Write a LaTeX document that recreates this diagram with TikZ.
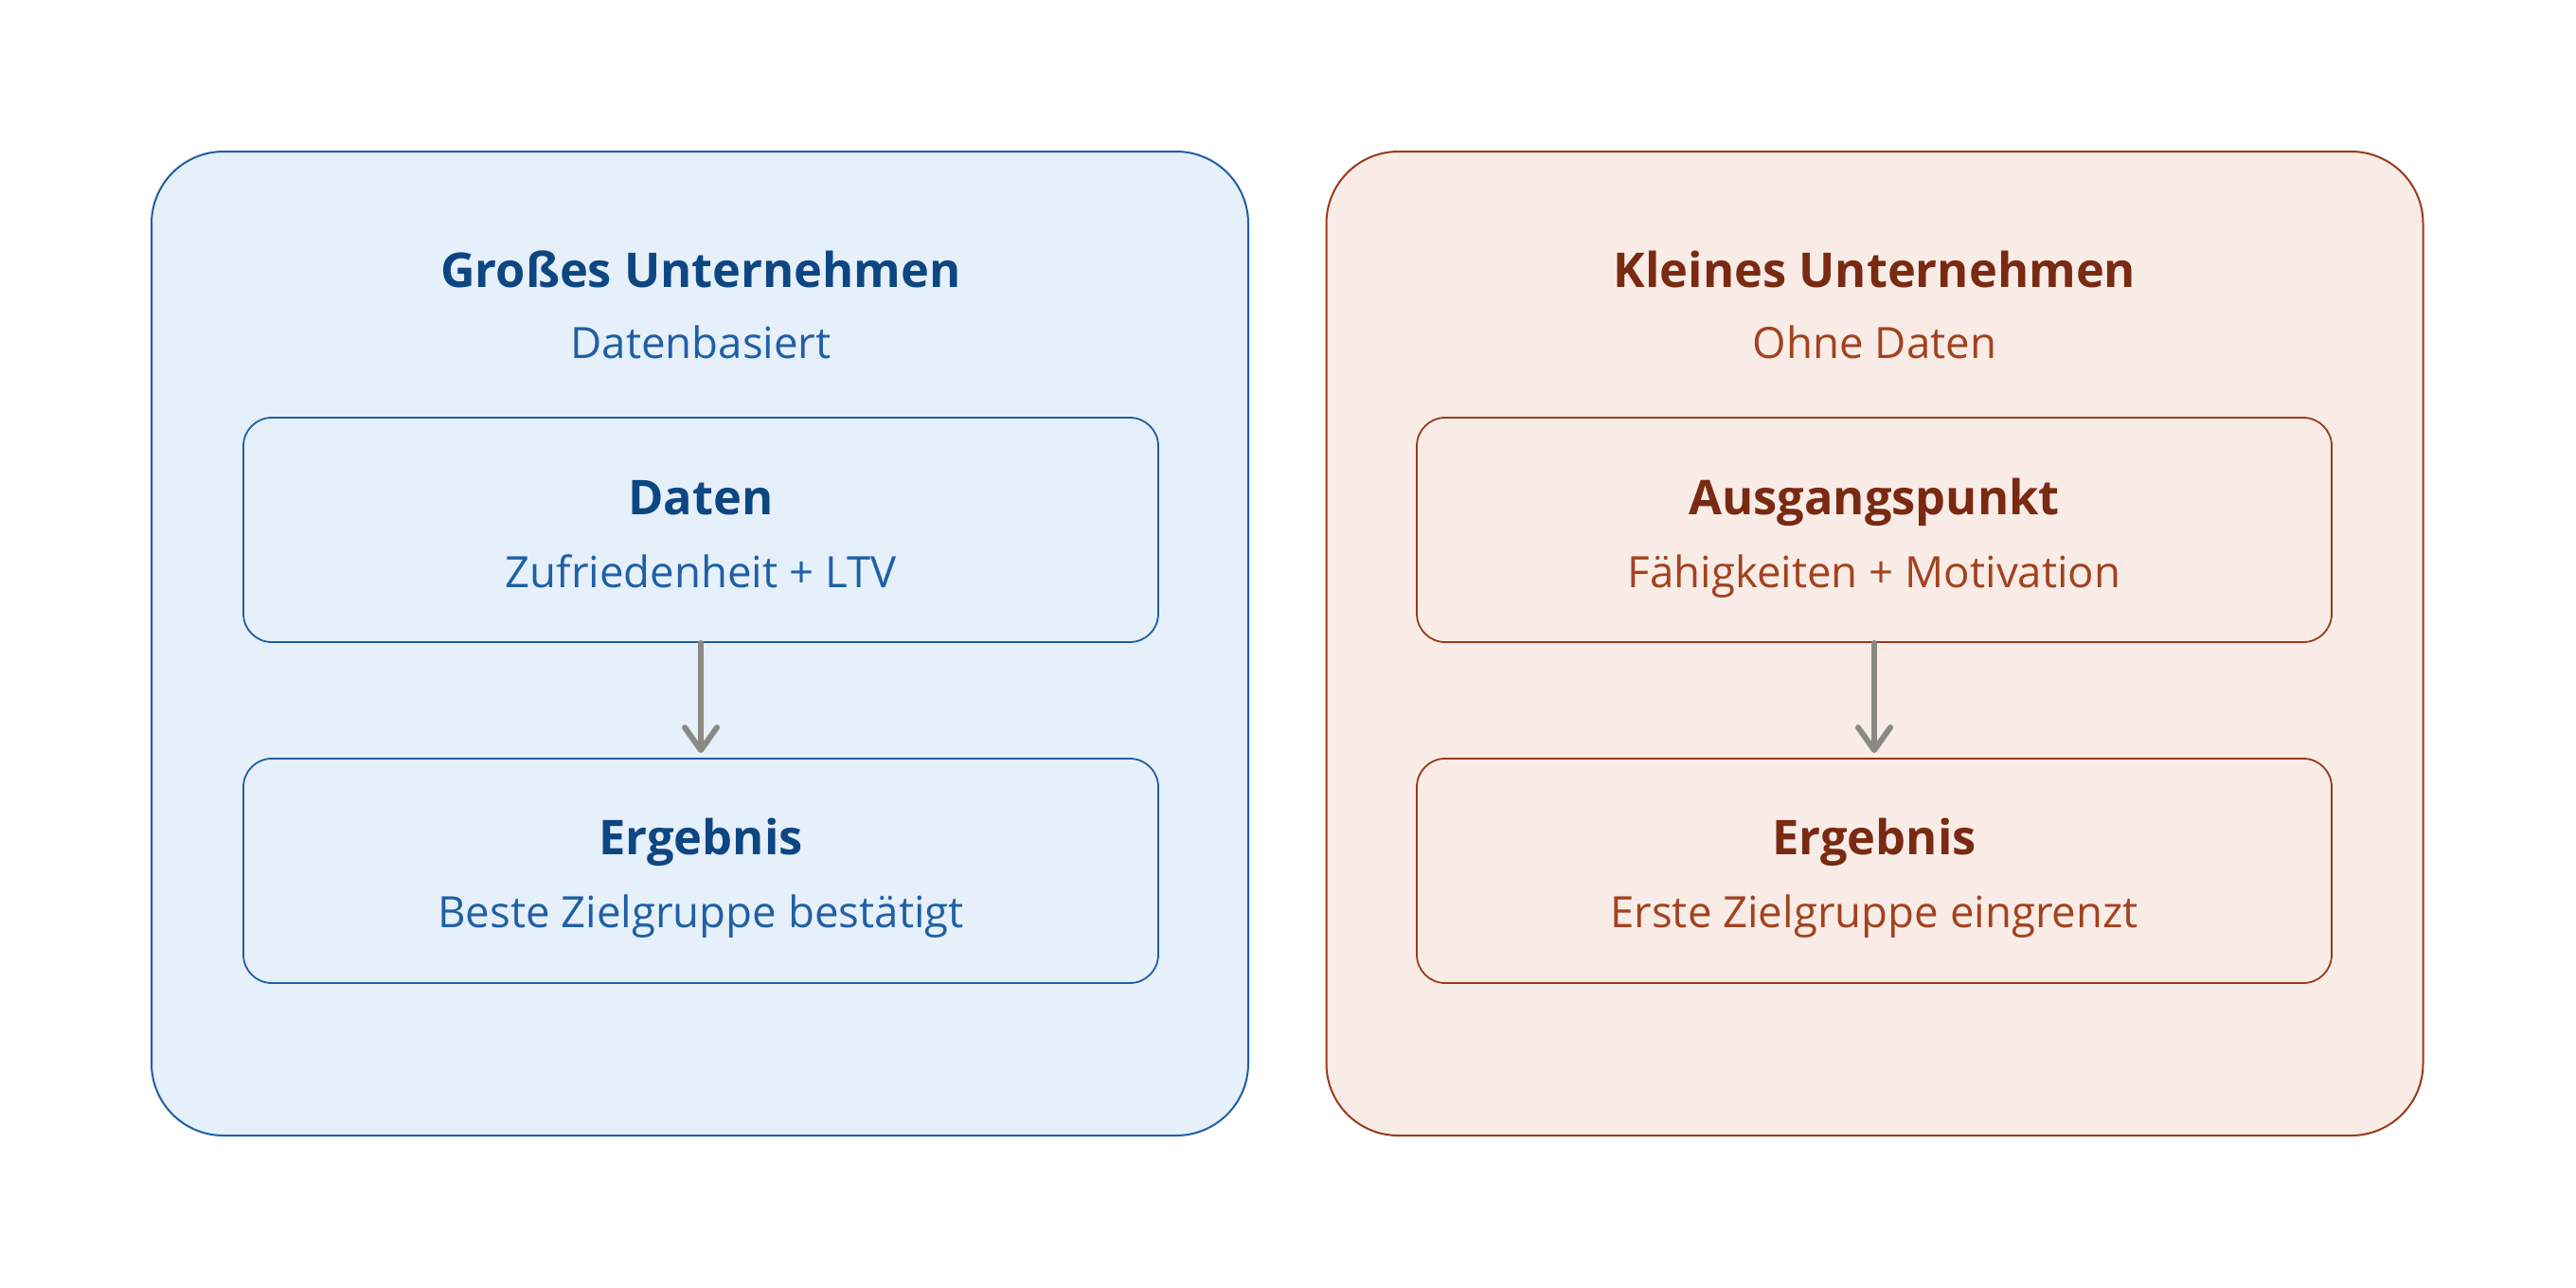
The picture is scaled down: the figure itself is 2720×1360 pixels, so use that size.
\documentclass[tikz,border=0pt]{standalone}
\usepackage{fontspec}
\setmainfont{Open Sans}
\usetikzlibrary{arrows.meta}
\definecolor{bluefill}{HTML}{E6F0FA}
\definecolor{blueline}{HTML}{1F5FA6}
\definecolor{bluetitle}{HTML}{0D4682}
\definecolor{bluesub}{HTML}{1F5FA6}
\definecolor{redfill}{HTML}{F9ECE7}
\definecolor{redline}{HTML}{9A3A1A}
\definecolor{redtitle}{HTML}{7A2A12}
\definecolor{redsub}{HTML}{A3421F}
\definecolor{arrowgray}{HTML}{8A8A85}
\begin{document}
\begin{tikzpicture}[x=0.5pt,y=-0.5pt,
  panel/.style={draw, line width=1pt, rounded corners=38pt, minimum width=579pt, minimum height=519.5pt, inner sep=0pt},
  innerbox/.style={draw, line width=0.9pt, rounded corners=15pt, minimum width=483pt, minimum height=118.5pt, inner sep=0pt},
  bluep/.style={fill=bluefill, draw=blueline},
  redp/.style={fill=redfill, draw=redline},
  ttl/.style={anchor=base, inner sep=0pt, font=\fontsize{25.3}{30}\selectfont\bfseries},
  sub/.style={anchor=base, inner sep=0pt, font=\fontsize{22.8}{27}\selectfont},
  flow/.style={draw=arrowgray, line width=3pt, line cap=round, -{Straight Barb[length=12pt, width=17pt, line cap=round, round]}, shorten >=2.5pt}
]
\useasboundingbox[fill=white] (0,0) rectangle (2720,1360);
% left panel
\node[panel, bluep] (panelL) at (739,679.5) {};
\node[ttl, text=bluetitle] (tL) at (740,303) {Großes Unternehmen};
\node[sub, text=bluesub] (sL) at (740,378) {Datenbasiert};
\node[innerbox, bluep] (dL) at (740,559.5) {};
\node[ttl, text=bluetitle] (dLt) at (740,543) {Daten};
\node[sub, text=bluesub] (dLs) at (740,620) {Zufriedenheit + LTV};
\node[innerbox, bluep] (eL) at (740,919.5) {};
\node[ttl, text=bluetitle] (eLt) at (740,902) {Ergebnis};
\node[sub, text=bluesub] (eLs) at (740,979) {Beste Zielgruppe bestätigt};
\draw[flow] (dL.south) -- (eL.north);
% right panel
\node[panel, redp] (panelR) at (1979.5,679.5) {};
\node[ttl, text=redtitle] (tR) at (1979.5,303) {Kleines Unternehmen};
\node[sub, text=redsub] (sR) at (1979.5,378) {Ohne Daten};
\node[innerbox, redp] (dR) at (1979,559.5) {};
\node[ttl, text=redtitle] (dRt) at (1979,543) {Ausgangspunkt};
\node[sub, text=redsub] (dRs) at (1979,620) {Fähigkeiten + Motivation};
\node[innerbox, redp] (eR) at (1979,919.5) {};
\node[ttl, text=redtitle] (eRt) at (1979,902) {Ergebnis};
\node[sub, text=redsub] (eRs) at (1979,979) {Erste Zielgruppe eingrenzt};
\draw[flow] (dR.south) -- (eR.north);
\end{tikzpicture}
\end{document}
